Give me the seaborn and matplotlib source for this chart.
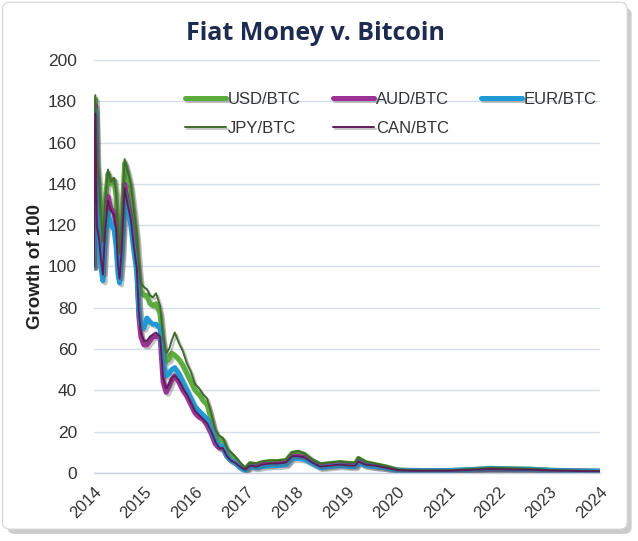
import matplotlib
matplotlib.use("Agg")
import matplotlib.pyplot as plt
import matplotlib.patheffects as pe
from matplotlib.patches import FancyBboxPatch
import seaborn as sns
import pandas as pd

years = [2014.00, 2014.03, 2014.06, 2014.10, 2014.14, 2014.18, 2014.22, 2014.28, 2014.34, 2014.40,
         2014.44, 2014.48, 2014.51, 2014.55, 2014.61, 2014.67, 2014.73, 2014.79, 2014.85, 2014.89,
         2014.93, 2014.99, 2015.05, 2015.11, 2015.17, 2015.23, 2015.31, 2015.37, 2015.43, 2015.49,
         2015.54, 2015.60, 2015.68, 2015.76, 2015.84, 2015.92, 2016.00, 2016.08, 2016.16, 2016.24,
         2016.32, 2016.40, 2016.48, 2016.55, 2016.63, 2016.71, 2016.79, 2016.89, 2016.99, 2017.09,
         2017.21, 2017.33, 2017.49, 2017.64, 2017.80, 2017.92, 2018.04, 2018.16, 2018.32, 2018.48,
         2018.67, 2018.87, 2019.07, 2019.17, 2019.23, 2019.37, 2019.56, 2019.76, 2020.00, 2020.26,
         2020.65, 2021.05, 2021.45, 2021.84, 2022.24, 2022.63, 2023.03, 2023.52, 2024.00]

usd = [100, 181, 150, 140, 124, 110, 130, 145, 140, 142,
       134, 114, 104, 120, 150, 145, 138, 126, 112, 98,
       88, 86, 86, 82, 81, 82, 77, 62, 54, 55,
       58, 57, 55, 52, 48, 44, 40, 38, 35, 33,
       26, 19, 16, 16, 11, 9, 7, 4, 2, 4.5,
       4, 5, 5.5, 5.5, 6, 9.5, 10, 9, 6, 4,
       4.5, 5, 4.5, 4.5, 7, 5, 4, 3, 1.5, 1.2,
       1.1, 1.2, 1.6, 2.2, 2.0, 1.8, 1.3, 1.0, 0.8]

jpy = [100, 183, 152, 142, 126, 112, 131, 147, 141, 143,
       136, 116, 106, 121, 152, 146, 140, 128, 116, 100,
       92, 90, 89, 86, 85, 87, 81, 66, 58, 60,
       64, 68, 63, 59, 53, 49, 43, 41, 38, 36,
       29, 21, 18, 17, 12, 10, 8, 5, 2.5, 5,
       4.5, 5.5, 6, 6, 6.5, 10, 10.5, 9.5, 6.5, 4.5,
       5, 5.5, 5, 5, 7.5, 5.5, 4.5, 3.5, 1.7, 1.3,
       1.2, 1.3, 1.8, 2.4, 2.2, 2.0, 1.4, 1.1, 0.9]

eur = [100, 176, 128, 112, 100, 93, 112, 126, 120, 118,
       110, 96, 92, 104, 136, 128, 120, 108, 97, 80,
       72, 70, 75, 73, 72, 72, 70, 54, 47, 48,
       50, 51, 48, 44, 40, 36, 32, 30, 28, 26,
       21, 16, 13, 13, 8, 6, 5, 2.5, 1.2, 3,
       2.5, 3, 3.5, 3.5, 4, 7, 7, 6.5, 4.5, 2.5,
       3, 3.5, 3, 3, 5, 3.5, 3, 2.5, 1.2, 1.0,
       1.0, 1.1, 1.5, 2.0, 1.8, 1.7, 1.2, 0.9, 0.8]

aud = [100, 178, 122, 116, 106, 97, 118, 134, 128, 126,
       120, 101, 95, 108, 140, 131, 124, 112, 100, 76,
       66, 62, 62, 64, 66, 66, 66, 44, 39, 42,
       45, 47, 44, 40, 37, 33, 29, 27, 26, 23,
       19, 14, 12, 12, 8, 6, 5, 3, 1.5, 3.5,
       3, 4, 4, 4.5, 4.5, 8, 8, 7.5, 5, 3,
       3.5, 4, 3.5, 3.5, 5.5, 4, 3, 2.5, 1.2, 1.0,
       0.9, 1.0, 1.3, 1.7, 1.6, 1.5, 1.1, 0.9, 0.7]

can = [100, 174, 120, 114, 104, 96, 116, 132, 127, 125,
       118, 100, 94, 107, 138, 130, 123, 110, 99, 78,
       68, 64, 64, 66, 67, 68, 66, 46, 41, 43,
       46, 47, 45, 41, 38, 34, 30, 28, 26, 24,
       20, 15, 12, 12, 8, 6, 5, 3, 1.5, 3.5,
       3, 4, 4.5, 4.5, 5, 8, 8, 7.5, 5, 3,
       3.5, 4, 3.5, 3.5, 5.5, 4, 3.5, 2.5, 1.3, 1.0,
       1.0, 1.0, 1.4, 1.8, 1.6, 1.5, 1.1, 0.9, 0.7]

series_names = ["USD/BTC", "AUD/BTC", "EUR/BTC", "JPY/BTC", "CAN/BTC"]
series_values = [usd, aud, eur, jpy, can]
colors = ["#5aac3c", "#9c3196", "#1f9ad7", "#3f6b2b", "#5e1d58"]
widths = [3.6, 3.6, 3.6, 1.4, 1.4]

year_ticks = list(range(2014, 2025))

df = pd.DataFrame({"year": years})
for name, vals in zip(series_names, series_values):
    df[name] = vals

sns.set_style("white")
plt.rcParams["font.family"] = ["Liberation Sans", "DejaVu Sans"]

fig = plt.figure(figsize=(6.38, 5.41), dpi=100)
fig.patch.set_facecolor("white")

# card frame with soft shadow, kept behind the axes
shadow = FancyBboxPatch((0.012, 0.013), 0.978, 0.972, boxstyle="round,pad=0,rounding_size=0.012",
                        transform=fig.transFigure, facecolor="#9a9a9a", edgecolor="none",
                        alpha=0.5, zorder=-2)
card = FancyBboxPatch((0.004, 0.022), 0.979, 0.974, boxstyle="round,pad=0,rounding_size=0.012",
                      transform=fig.transFigure, facecolor="white", edgecolor="#d6d6d6",
                      linewidth=0.8, zorder=-1)
fig.patches.extend([shadow, card])

ax = fig.add_axes([0.147, 0.126, 0.793, 0.763])
ax.set_facecolor("none")

shadow_fx = [pe.SimpleLineShadow(offset=(1.5, -1.5), shadow_color="#555555", alpha=0.35), pe.Normal()]
for name, c, w in zip(series_names, colors, widths):
    sns.lineplot(data=df, x="year", y=name, ax=ax, color=c, linewidth=w, label=name,
                 path_effects=shadow_fx, solid_joinstyle="round")

ax.set_xlim(2014, 2024)
ax.set_ylim(0, 200)
ax.set_yticks(range(0, 201, 20))
ax.set_xticks(year_ticks)
ax.set_xticklabels([str(y) for y in year_ticks], rotation=45, ha="right",
                   rotation_mode="anchor")
ax.yaxis.grid(True, color="#d5dcea", linewidth=1.0)
ax.xaxis.grid(False)
for s in ["top", "right", "left"]:
    ax.spines[s].set_visible(False)
ax.spines["bottom"].set_color("#c7d0e2")
ax.spines["bottom"].set_linewidth(1.0)
ax.tick_params(axis="x", length=5, color="#c7d0e2", labelsize=12, labelcolor="#333333", pad=3)
ax.tick_params(axis="y", length=0, labelsize=12.5, labelcolor="#333333", pad=12)
ax.set_xlabel("")
ax.set_ylabel("Growth of 100", fontsize=13.5, fontweight="bold", color="#222222", labelpad=3)

handles, labels = ax.get_legend_handles_labels()
lookup = dict(zip(labels, handles))
order = ["USD/BTC", "JPY/BTC", "AUD/BTC", "CAN/BTC", "EUR/BTC"]
ax.legend([lookup[n] for n in order], order, ncol=3, frameon=False, loc="upper left",
          bbox_to_anchor=(0.15, 0.96), fontsize=12, handlelength=2.5, handletextpad=0.1,
          columnspacing=1.9, labelspacing=0.85, labelcolor="#333333")

fig.text(0.494, 0.938, "Fiat Money v. Bitcoin", ha="center", va="center", fontsize=18,
         fontweight="bold", color="#1c2b4f", family=["Open Sans", "DejaVu Sans"])

fig.savefig("out.png", dpi=100, facecolor="white")
